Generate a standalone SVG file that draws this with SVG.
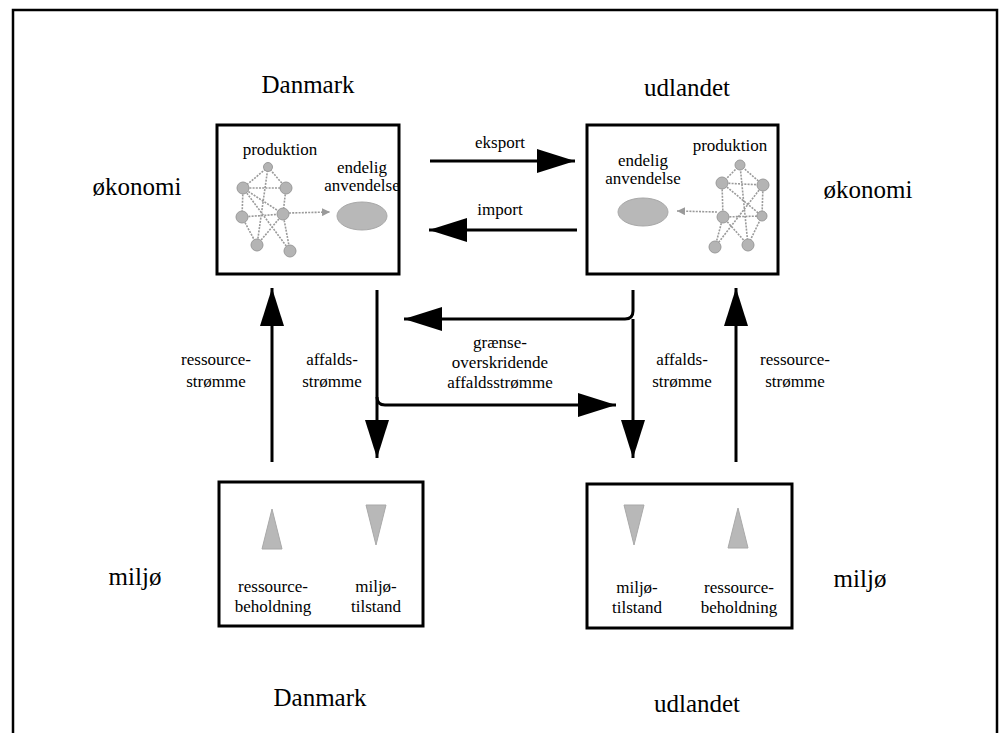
<svg xmlns="http://www.w3.org/2000/svg" width="1000" height="733" viewBox="0 0 1000 733">
<defs>
<style>
.big{font-family:"Liberation Serif","Times New Roman",serif;font-size:25px;fill:#000;text-anchor:middle}
.sm{font-family:"Liberation Serif","Times New Roman",serif;font-size:17px;fill:#000;text-anchor:middle}
.box{fill:#fff;stroke:#000;stroke-width:3}
.flow{fill:none;stroke:#000;stroke-width:3}
.edge{stroke:#9a9a9a;stroke-width:1.6;stroke-dasharray:2 1.2;fill:none}
.nd{fill:#b4b4b4;stroke:#9a9a9a;stroke-width:1}
.blob{fill:#b8b8b8;stroke:#a8a8a8;stroke-width:1}
</style>
<marker id="ah" markerUnits="userSpaceOnUse" markerWidth="40" markerHeight="26" refX="38" refY="12" orient="auto">
<path d="M0,0 L38,12 L0,24 z" fill="#000"/>
</marker>
<marker id="gh" markerUnits="userSpaceOnUse" markerWidth="10" markerHeight="8" refX="8" refY="4" orient="auto">
<path d="M0,0 L8,4 L0,8 z" fill="#9a9a9a"/>
</marker>
</defs>
<rect width="1000" height="733" fill="#fff"/>
<rect x="13" y="10" width="984" height="740" fill="none" stroke="#000" stroke-width="2.5"/>

<g id="labels">
<text class="big" x="308" y="93">Danmark</text>
<text class="big" x="687" y="96">udlandet</text>
<text class="big" x="137" y="195">økonomi</text>
<text class="big" x="868" y="198">økonomi</text>
<text class="big" x="135" y="585">miljø</text>
<text class="big" x="860" y="587">miljø</text>
<text class="big" x="320" y="706">Danmark</text>
<text class="big" x="697" y="712">udlandet</text>
</g>

<g id="dk-economy">
<rect class="box" x="217" y="125" width="182" height="149"/>
<text class="sm" x="280" y="155">produktion</text>
<text class="sm" x="362" y="173">endelig</text>
<text class="sm" x="362" y="191">anvendelse</text>
<g>
<path class="edge" d="M268,167 L243,188 M268,167 L286,188 M268,167 L257,245 M243,188 L286,188 M243,188 L242,217 M243,188 L290,251 M243,188 L283,214 M286,188 L283,214 M242,217 L283,214 M242,217 L257,245 M283,214 L257,245 M283,214 L290,251"/>
<circle class="nd" cx="268" cy="167" r="4.5"/>
<circle class="nd" cx="243" cy="188" r="6"/>
<circle class="nd" cx="286" cy="188" r="6"/>
<circle class="nd" cx="242" cy="217" r="6"/>
<circle class="nd" cx="283" cy="214" r="6"/>
<circle class="nd" cx="257" cy="245" r="6"/>
<circle class="nd" cx="290" cy="251" r="6"/>
<line class="edge" x1="289" y1="213" x2="330" y2="212" marker-end="url(#gh)"/>
</g>
<ellipse class="blob" cx="362" cy="216" rx="25" ry="14"/>
</g>

<g id="ud-economy">
<rect class="box" x="587" y="125" width="191" height="149"/>
<text class="sm" x="730" y="151">produktion</text>
<text class="sm" x="643" y="166">endelig</text>
<text class="sm" x="643" y="184">anvendelse</text>
<g>
<path class="edge" d="M740,165 L722,183 M740,165 L763,185 M740,165 L748,245 M722,183 L763,185 M722,183 L723,217 M722,183 L762,216 M763,185 L762,216 M763,185 L715,247 M723,217 L762,216 M723,217 L715,247 M723,217 L748,245 M762,216 L748,245"/>
<circle class="nd" cx="740" cy="165" r="5"/>
<circle class="nd" cx="722" cy="183" r="6"/>
<circle class="nd" cx="763" cy="185" r="6"/>
<circle class="nd" cx="723" cy="217" r="6"/>
<circle class="nd" cx="762" cy="216" r="5"/>
<circle class="nd" cx="715" cy="247" r="6"/>
<circle class="nd" cx="748" cy="245" r="6"/>
<line class="edge" x1="717" y1="212" x2="677" y2="211" marker-end="url(#gh)"/>
</g>
<ellipse class="blob" cx="643" cy="212" rx="25" ry="14"/>
</g>

<g id="dk-environment">
<rect class="box" x="219" y="482" width="204" height="144"/>
<polygon class="blob" points="272,509 282,549 262,549"/>
<polygon class="blob" points="366,505 386,505 376,545"/>
<text class="sm" x="273" y="592">ressource-</text>
<text class="sm" x="273" y="612">beholdning</text>
<text class="sm" x="376" y="592">miljø-</text>
<text class="sm" x="376" y="612">tilstand</text>
</g>

<g id="ud-environment">
<rect class="box" x="587" y="484" width="205" height="144"/>
<polygon class="blob" points="624,505 644,505 634,545"/>
<polygon class="blob" points="738,508 748,548 728,548"/>
<text class="sm" x="637" y="593">miljø-</text>
<text class="sm" x="637" y="613">tilstand</text>
<text class="sm" x="739" y="593">ressource-</text>
<text class="sm" x="739" y="613">beholdning</text>
</g>

<g id="connectors">
<line class="flow" x1="430" y1="161" x2="575" y2="161" marker-end="url(#ah)"/>
<text class="sm" x="500" y="148">eksport</text>
<line class="flow" x1="577" y1="230" x2="429" y2="230" marker-end="url(#ah)"/>
<text class="sm" x="500" y="215">import</text>

<line class="flow" x1="272" y1="462" x2="272" y2="288" marker-end="url(#ah)"/>
<text class="sm" x="216" y="365">ressource-</text>
<text class="sm" x="216" y="387">strømme</text>

<line class="flow" x1="377" y1="290" x2="377" y2="458" marker-end="url(#ah)"/>
<text class="sm" x="332" y="365">affalds-</text>
<text class="sm" x="332" y="387">strømme</text>

<path class="flow" d="M377,397 Q377,405 385,405 L616,405" marker-end="url(#ah)"/>
<path class="flow" d="M633,290 L633,311 Q633,319 625,319 L404,319" marker-end="url(#ah)"/>
<text class="sm" x="500" y="348">grænse-</text>
<text class="sm" x="500" y="368">overskridende</text>
<text class="sm" x="500" y="388">affaldsstrømme</text>

<line class="flow" x1="633" y1="319" x2="633" y2="458" marker-end="url(#ah)"/>
<text class="sm" x="682" y="365">affalds-</text>
<text class="sm" x="682" y="387">strømme</text>

<line class="flow" x1="736" y1="462" x2="736" y2="288" marker-end="url(#ah)"/>
<text class="sm" x="795" y="365">ressource-</text>
<text class="sm" x="795" y="387">strømme</text>
</g>
</svg>
